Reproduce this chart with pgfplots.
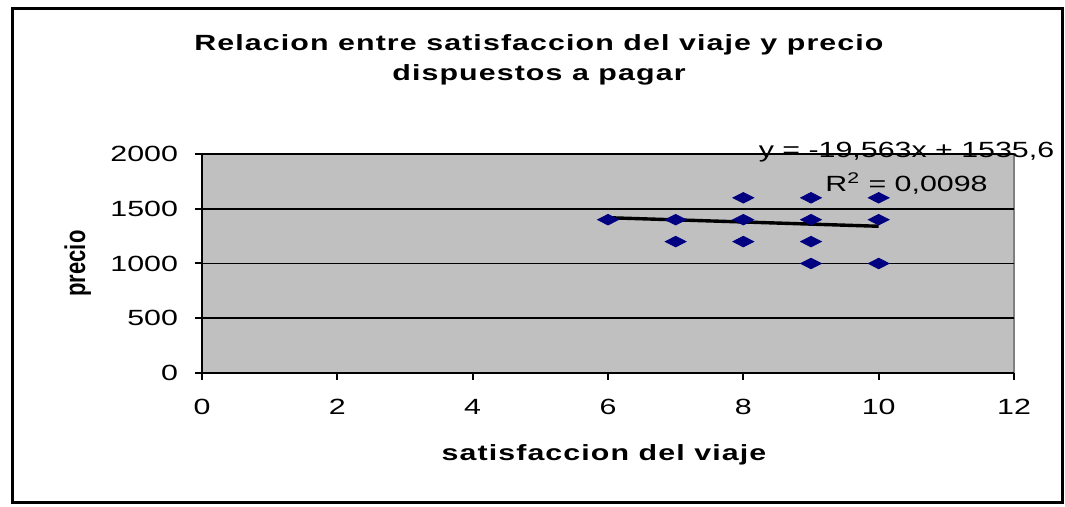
\documentclass[border=0pt]{standalone}
\usepackage{fontspec}
\setmainfont{Liberation Sans}[FakeStretch=1.38]
\newfontfamily\ylabfont{Liberation Sans}
\newfontfamily\titlefont{Liberation Sans}[FakeStretch=1.38, LetterSpace=5]
\usepackage{graphicx}
\usepackage{pgfplots}
\pgfplotsset{compat=1.18}
\definecolor{plotgray}{HTML}{C0C0C0}
\definecolor{bordergray}{HTML}{808080}
\definecolor{navy}{HTML}{000080}
\begin{document}
\begin{tikzpicture}
\useasboundingbox (0,0) rectangle (532.5pt,253.5pt);
\draw[line width=1.5pt] (6pt,2pt) rectangle (531pt,249pt);
\begin{axis}[
  at={(101pt,67pt)}, anchor=south west,
  scale only axis, width=406pt, height=109.5pt,
  xmin=0, xmax=12, ymin=0, ymax=2000,
  xtick={0,2,...,12}, ytick={0,500,...,2000},
  axis lines*=left,
  x axis line style={-, line width=1pt},
  y axis line style={-, line width=1pt},
  axis background/.style={fill=plotgray, draw=bordergray, line width=1pt},
  ymajorgrids, grid style={black, line width=0.8pt},
  tick align=outside, major tick length=3.5pt,
  tick style={black, line width=1pt},
  /pgf/number format/assume math mode=true,
  /pgf/number format/set thousands separator={},
  ticklabel style={font=\fontsize{11}{13}\selectfont},
  xticklabel style={yshift=-6pt},
  yticklabel style={xshift=-5pt},
  ylabel={\scalebox{1}[1.3]{\ylabfont\bfseries\fontsize{11}{13}\selectfont precio}},
  ylabel style={at={(axis description cs:-0.153,0.5)}, anchor=center, rotate=0},
  xlabel={satisfaccion del viaje},
  xlabel style={at={(axis description cs:0.495,-0.375)}, anchor=center,
    font=\titlefont\bfseries\fontsize{11}{13}\selectfont},
  title={Relacion entre satisfaccion del viaje y precio\\[2pt]dispuestos a pagar},
  title style={at={(axis description cs:0.415,1.375)}, anchor=center, align=center,
    font=\titlefont\bfseries\fontsize{11}{13}\selectfont},
  clip=false,
]
\addplot[only marks, mark=diamond*, mark size=3pt, mark options={fill=navy, draw=navy, xscale=2.3, yscale=0.88}] coordinates {
(6,1400) (7,1400) (7,1200) (8,1600) (8,1400) (8,1200)
(9,1600) (9,1400) (9,1200) (9,1000) (10,1600) (10,1400) (10,1000)};
\addplot[black, line width=1.7pt, no marks] coordinates {(6,1418.2) (10,1340.0)};
\node[font=\fontsize{11}{13}\selectfont, anchor=center] at (axis description cs:0.8676,1.009) {y = -19,563x + 1535,6};
\node[font=\fontsize{11}{13}\selectfont, anchor=center] at (axis description cs:0.8676,0.863) {R\textsuperscript{2} = 0,0098};
\end{axis}
\end{tikzpicture}
\end{document}
